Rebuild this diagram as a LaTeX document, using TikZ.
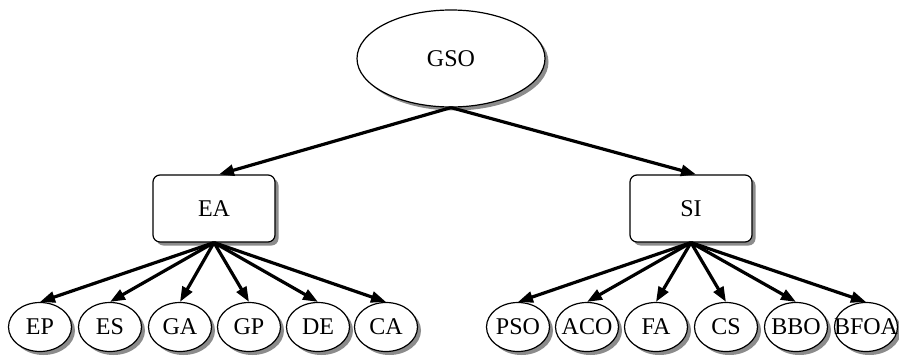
\documentclass[tikz,border=0pt]{standalone}
\usepackage{fontspec}
\setmainfont{Liberation Serif}
\usetikzlibrary{shapes.geometric,shadows,arrows.meta}
% label that does not widen its ellipse
\newcommand\zw[1]{\makebox[0pt]{#1}}
\begin{document}
\begin{tikzpicture}[x=1pt,y=-1pt,
  font=\fontsize{24}{28}\selectfont,
  shade box/.style={drop shadow={shadow xshift=3.5pt,shadow yshift=-3.5pt,fill=black!45,opacity=1}},
  root/.style={ellipse,draw,line width=1.2pt,fill=white,shade box,
    minimum width=188pt,minimum height=97pt,inner sep=0pt},
  family/.style={rectangle,rounded corners=7pt,draw,line width=1.2pt,fill=white,shade box,
    minimum width=122pt,minimum height=67pt,inner sep=0pt},
  algo/.style={ellipse,draw,line width=1.2pt,fill=white,shade box,
    minimum width=63pt,minimum height=49pt,inner sep=0pt},
  link/.style={line width=3.2pt,-{Triangle[length=15pt,width=11pt]}},
]
\useasboundingbox (0,0) rectangle (899,356);

\node[root] (gso) at (451,58.5) {GSO};
\node[family] (ea) at (214,208.5) {EA};
\node[family] (si) at (691,208.5) {SI};

\node[algo] (ep) at (40,327) {\zw{EP}};
\node[algo] (es) at (110,327) {\zw{ES}};
\node[algo] (ga) at (180,327) {\zw{GA}};
\node[algo] (gp) at (249,327) {\zw{GP}};
\node[algo] (de) at (318,327) {\zw{DE}};
\node[algo] (ca) at (386,327) {\zw{CA}};

\node[algo] (pso) at (518,327) {\zw{PSO}};
\node[algo] (aco) at (587,327) {\zw{ACO}};
\node[algo] (fa) at (656,327) {\zw{FA}};
\node[algo] (cs) at (726,327) {\zw{CS}};
\node[algo] (bbo) at (796,327) {\zw{BBO}};
\node[algo] (bfoa) at (866,327) {\zw{BFOA}};

\draw[link] (gso.south) -- ([xshift=5pt]ea.north);
\draw[link] (gso.south) -- ([xshift=5pt]si.north);

\foreach \t in {ep,es,ga,gp,de,ca}
  \draw[link] (ea.south) -- (\t.north);
\foreach \t in {pso,aco,fa,cs,bbo,bfoa}
  \draw[link] (si.south) -- (\t.north);
\end{tikzpicture}
\end{document}
